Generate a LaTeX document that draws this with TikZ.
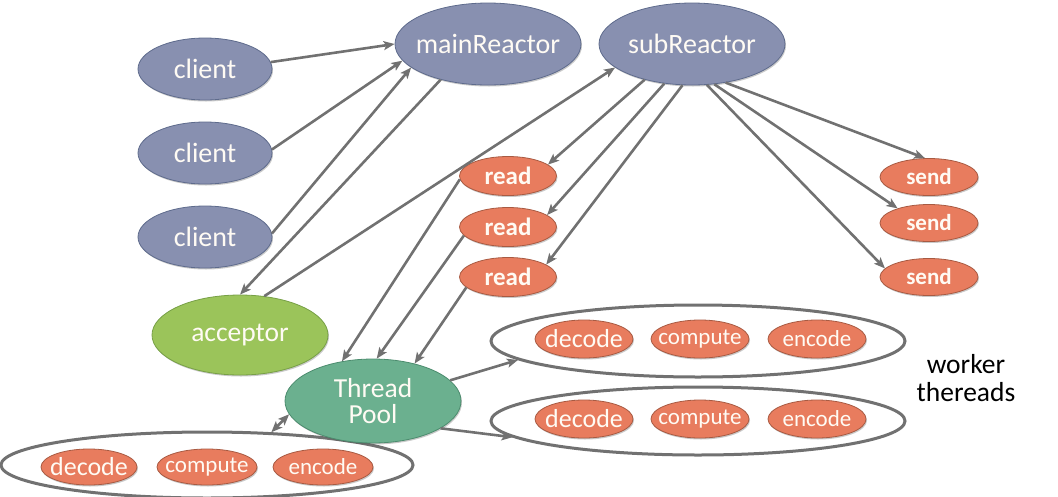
\documentclass[tikz,border=0pt]{standalone}
\usepackage{fontspec}
\setmainfont{Carlito}
\usetikzlibrary{shapes.geometric,arrows.meta,shadows}
\definecolor{slatefill}{HTML}{8890B0}
\definecolor{slatedraw}{HTML}{5E6B8C}
\definecolor{orfill}{HTML}{E87C5E}
\definecolor{ordraw}{HTML}{A85A42}
\definecolor{grfill}{HTML}{9BC45A}
\definecolor{grdraw}{HTML}{77A046}
\definecolor{tlfill}{HTML}{6BB08F}
\definecolor{tldraw}{HTML}{4C8C6E}
\definecolor{arrgray}{HTML}{717171}
\definecolor{txtw}{HTML}{FFFBF4}
\begin{document}
\begin{tikzpicture}[x=1pt,y=-1pt,
  base/.style={ellipse, inner sep=0pt, line width=0.8pt,
    drop shadow={shadow xshift=1pt, shadow yshift=-1.5pt, opacity=0.3, fill=black!70}},
  bluenode/.style={base, fill=slatefill, draw=slatedraw, minimum width=134pt, minimum height=62pt},
  reactor/.style={base, fill=slatefill, draw=slatedraw, minimum width=186pt, minimum height=82pt},
  ornode/.style={base, fill=orfill, draw=ordraw, minimum width=98pt, minimum height=38pt},
  grnode/.style={base, fill=grfill, draw=grdraw, minimum width=176pt, minimum height=80pt},
  tlnode/.style={base, fill=tlfill, draw=tldraw, minimum width=176pt, minimum height=84pt},
  groupell/.style={ellipse, draw=arrgray, line width=3pt, fill=white, inner sep=0pt},
  lbl/.style={text=txtw, inner sep=0pt},
  fa/.style={font=\fontsize{28}{30}\selectfont},
  fb/.style={font=\fontsize{27.5}{26}\selectfont},
  fread/.style={font=\fontsize{25}{27}\selectfont\bfseries},
  fsend/.style={font=\fontsize{23}{25}\selectfont\bfseries},
  fdec/.style={font=\fontsize{26}{28}\selectfont},
  fcmp/.style={font=\fontsize{23}{25}\selectfont},
  arr/.style={draw=arrgray, line width=2.6pt, -{Stealth[length=11pt,width=9pt,inset=2.5pt]}},
  darr/.style={draw=arrgray, line width=2.6pt, {Stealth[length=11pt,width=9pt,inset=2.5pt]}-{Stealth[length=11pt,width=9pt,inset=2.5pt]}}
]
\useasboundingbox (0,0) rectangle (1058,496);

% group ellipses
\node[groupell, minimum width=414pt, minimum height=72pt] (g1) at (698,341) {};
\node[groupell, minimum width=414pt, minimum height=68pt] (g2) at (698,421) {};
\node[groupell, minimum width=412pt, minimum height=66pt] (g3) at (207,465) {};

% top nodes
\node[bluenode, label={[lbl,fa]center:client}] (c1) at (205,69) {};
\node[bluenode, label={[lbl,fa]center:client}] (c2) at (205,153) {};
\node[bluenode, label={[lbl,fa]center:client}] (c3) at (205,237) {};
\node[reactor, label={[lbl,fa]center:mainReactor}] (main) at (488,44) {};
\node[reactor, label={[lbl,fa]center:subReactor}] (sub) at (692,44) {};
\node[grnode, label={[lbl,fb]center:acceptor}] (acc) at (240,335) {};
\node[tlnode, label={[lbl,fb,align=center]center:{Thread\\Pool}}] (tp) at (373,401) {};

% read / send
\node[ornode, minimum width=97pt, minimum height=39pt, label={[lbl,fread]center:read}] (r1) at (508,176) {};
\node[ornode, minimum width=97pt, minimum height=39pt, label={[lbl,fread]center:read}] (r2) at (508,227) {};
\node[ornode, minimum width=97pt, minimum height=39pt, label={[lbl,fread]center:read}] (r3) at (508,277) {};
\node[ornode, minimum width=98pt, minimum height=37pt, label={[lbl,fsend]center:send}] (s1) at (929,177) {};
\node[ornode, minimum width=98pt, minimum height=37pt, label={[lbl,fsend]center:send}] (s2) at (929,223) {};
\node[ornode, minimum width=98pt, minimum height=37pt, label={[lbl,fsend]center:send}] (s3) at (929,277) {};

% worker nodes
\node[ornode, label={[lbl,fdec]center:decode}] (d1) at (584,339) {};
\node[ornode, label={[lbl,fcmp]center:compute}] (p1) at (700,339) {};
\node[ornode, label={[lbl,fcmp]center:encode}] (e1) at (817,339) {};
\node[ornode, label={[lbl,fdec]center:decode}] (d2) at (584,419) {};
\node[ornode, label={[lbl,fcmp]center:compute}] (p2) at (700,419) {};
\node[ornode, label={[lbl,fcmp]center:encode}] (e2) at (817,419) {};
\node[ornode, minimum width=96pt, minimum height=36pt, label={[lbl,fdec]center:decode}] (d3) at (89,467) {};
\node[ornode, minimum width=100pt, minimum height=36pt, label={[lbl,fcmp]center:compute}] (p3) at (207,467) {};
\node[ornode, minimum width=100pt, minimum height=36pt, label={[lbl,fcmp]center:encode}] (e3) at (323,467) {};

\node[align=center, font=\fontsize{27.5}{28}\selectfont, text=black] (wt) at (966,378) {worker\\thereads};

% connectors
\draw[arr] (c1.6) -- (main.180);
\draw[arr] (c2.3) -- (main.191);
\draw[arr] (c3.3) -- (main.197);
\draw[arr] (main.217) -- (acc.90);
\draw[arr] (acc.58) -- (sub.197);
\draw[arr] (sub.217) -- (r1.16);
\draw[arr] (sub.235) -- (r2.17);
\draw[arr] (sub.257) -- (r3.18);
\draw[arr] (sub.311) -- (s1.102);
\draw[arr] (sub.299) -- (s2.155);
\draw[arr] (sub.290) -- (s3.169);
\draw[arr] (r1.184) -- (tp.128);
\draw[arr] (r2.191) -- (tp.85);
\draw[arr] (r3.194) -- (tp.42);
\draw[arr] (tp.15) -- (g1.186);
\draw[arr] (tp.338) -- (g2.185);
\draw[darr] (g3.27) -- (tp.189);
\end{tikzpicture}
\end{document}
